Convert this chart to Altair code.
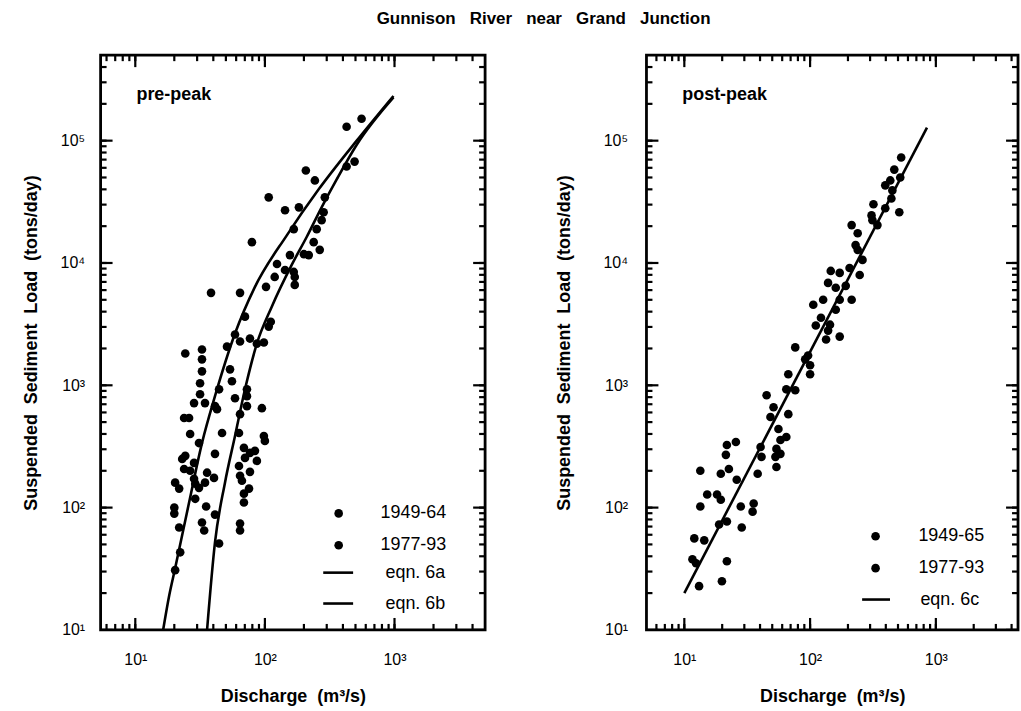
import altair as alt
import pandas as pd

# ---------------- data ----------------
# pre-peak panel, period 1949-64
pre1_q = [557, 427, 427, 492, 207, 243, 290, 107, 143, 183, 284, 274, 251, 167, 79.4, 238,
          265, 156, 200, 218, 124, 143, 167, 119, 170, 170, 102, 38.4, 64.3, 70.2, 111, 107,
          58.8, 76.7, 64.3, 51.0, 86.7, 98.2, 24.3, 32.7, 32.7, 32.7, 31.6]
pre1_l = [151000, 130000, 61500, 67400, 57000, 47300, 34400, 34400, 27000, 28500, 26000,
          22400, 18900, 18900, 14800, 14800, 12800, 11600, 11800, 11600, 9820, 8770, 8450,
          7690, 7690, 6620, 6380, 5700, 5700, 3640, 3310, 3020, 2600, 2410, 2280, 2070, 2190,
          2240, 1820, 1960, 1630, 1300, 1040]
# pre-peak panel, period 1977-93
pre2_q = [53.8, 55.7, 44.3, 31.6, 72.7, 72.7, 58.8, 34.5, 41.2, 28.4, 72.7, 94.8, 42.7, 26.0,
          23.8, 64.3, 26.5, 46.7, 63.1, 98.2, 100, 31.0, 41.2, 68.9, 76.7, 83.8, 70.2, 86.7,
          24.3, 23.0, 28.4, 63.1, 23.8, 26.5, 35.8, 76.7, 28.4, 40.5, 64.3, 20.3, 29.0, 31.0,
          34.5, 21.8, 66.5, 75.4, 29.0, 68.9, 68.9, 20.0, 20.0, 35.2, 41.2, 32.7, 34.0, 64.3,
          64.3, 21.8, 44.3, 22.2, 20.3]
pre2_l = [1350, 1080, 927, 845, 927, 815, 784, 715, 675, 715, 675, 650, 638, 540, 540, 581,
          400, 407, 407, 385, 351, 337, 275, 308, 280, 291, 255, 241, 265, 250, 232, 219, 207,
          200, 193, 196, 172, 175, 182, 160, 157, 145, 160, 143, 166, 143, 118, 130, 110, 100,
          89.3, 102, 87.7, 75.5, 65.0, 74.1, 65.0, 68.7, 50.9, 43.1, 30.8]
# fitted curves, pre-peak
eq6a_q = [16.4, 18.3, 20.3, 26.0, 32.7, 41.2, 58.8, 83.8, 148, 260, 511, 982]
eq6a_l = [10, 19.3, 31.9, 110, 337, 815, 2650, 6380, 16900, 40000, 100000, 232000]
eq6b_q = [35.8, 41.2, 49.2, 58.8, 70.2, 86.7, 113, 161, 210, 274, 358, 511, 982]
eq6b_l = [10, 51.9, 160, 385, 927, 2190, 4390, 9640, 16300, 28500, 48200, 92700, 226000]

# post-peak panel, period 1949-65
post1_q = [530, 467, 521, 434, 396, 451, 443, 512, 319, 396, 308, 313, 343, 214, 239, 230,
           239, 261, 206, 248, 146, 172, 139, 160, 192, 172, 214, 127, 106, 160, 122, 111,
           144, 139, 134, 172, 96.4, 76.2, 91.4, 100]
post1_l = [72800, 58000, 50000, 47300, 43100, 39200, 33700, 26000, 30200, 28000, 24500,
           22400, 20400, 20400, 17500, 14000, 12800, 10600, 9100, 7980, 8610, 8300, 6870,
           6270, 6500, 5000, 5000, 5000, 4560, 4150, 3570, 3080, 3130, 2800, 2370, 2500, 1750,
           2040, 1630, 1460]
# post-peak panel, period 1977-93
post2_q = [67.1, 100, 64.7, 76.2, 45.1, 51.2, 48.4, 67.1, 56.0, 64.7, 58.1, 40.4, 54.0, 58.1,
           41.1, 53.0, 54.0, 21.8, 25.7, 21.4, 13.4, 19.5, 22.6, 38.3, 26.1, 15.2, 18.2, 19.5,
           13.4, 28.1, 35.6, 34.9, 21.8, 18.9, 28.6, 12.0, 14.4, 11.6, 12.4, 21.8, 13.1, 19.9]
post2_l = [1230, 1230, 927, 910, 830, 662, 550, 581, 439, 378, 357, 313, 302, 275, 260, 260,
           215, 325, 344, 270, 200, 189, 207, 189, 169, 128, 128, 116, 102, 102, 108, 92.7,
           76.9, 72.8, 68.7, 56.0, 54.0, 37.8, 35.1, 36.4, 22.8, 25.0]
# fitted line, post-peak
eq6c_q = [10, 850]
eq6c_l = [20, 128000]

x_major = [10, 100, 1000]
x_major_labels = ["10¹", "10²", "10³"]
y_major = [10, 100, 1000, 10000, 100000]
y_major_labels = ["10¹", "10²", "10³", "10⁴", "10⁵"]

FONT = "Liberation Sans"
NB = "\u00a0"


def gap(n):
    return NB * n


def label_expr(values, labels):
    expr = "''"
    for v, s in reversed(list(zip(values, labels))):
        expr = f"datum.value == {v} ? '{s}' : ({expr})"
    return expr


def minor_ticks(lo, hi):
    out = []
    for e in range(0, 7):
        for m in range(1, 10):
            v = m * 10 ** e
            if lo < v < hi:
                out.append(v)
    return out


def panel(p1q, p1l, p2q, p2l, per_names, curves, tag, xdom, w, h,
          title_pad, label_pad, leg_pts, leg_lines):
    xs = alt.Scale(type="log", domain=xdom, nice=False)
    ys = alt.Scale(type="log", domain=[10, 500000], nice=False)
    xaxis = alt.Axis(values=x_major, labelExpr=label_expr(x_major, x_major_labels),
                     ticks=False, domain=False, grid=False, labelPadding=22,
                     labelFontSize=16, labelFont=FONT, labelColor="black",
                     titleFont=FONT, titleFontSize=18, titleColor="black",
                     titleFontWeight="bold", titlePadding=20,
                     title=f"Discharge{gap(2)}(m³/s)")
    yaxis = alt.Axis(values=y_major, labelExpr=label_expr(y_major, y_major_labels),
                     ticks=False, domain=False, grid=False, labelPadding=label_pad,
                     labelFontSize=16, labelFont=FONT, labelColor="black",
                     titleFont=FONT, titleFontSize=18, titleColor="black",
                     titleFontWeight="bold", titlePadding=title_pad,
                     title=f"Suspended{gap(2)}Sediment{gap(2)}Load{gap(2)}(tons/day)")

    pts = pd.DataFrame({
        "Q": p1q + p2q,
        "L": p1l + p2l,
        "period": [per_names[0]] * len(p1q) + [per_names[1]] * len(p2q),
    })
    points = alt.Chart(pts).mark_point(filled=True, color="black", opacity=1, size=75).encode(
        x=alt.X("Q:Q", scale=xs, axis=xaxis),
        y=alt.Y("L:Q", scale=ys, axis=yaxis),
        shape=alt.Shape("period:N",
                        scale=alt.Scale(domain=per_names, range=["circle", "circle"]),
                        legend=alt.Legend(title=None, orient="none", legendX=leg_pts[0],
                                          legendY=leg_pts[1], padding=0, symbolSize=75,
                                          symbolFillColor="black", symbolStrokeColor="black",
                                          symbolStrokeWidth=0, labelFontSize=18,
                                          labelColor="black",
                                          labelFont=FONT, labelOffset=leg_pts[2],
                                          rowPadding=leg_pts[3])),
    )

    rows = []
    names = []
    for name, cq, cl in curves:
        names.append(name)
        for q, l in zip(cq, cl):
            rows.append({"Q": q, "L": l, "eq": name})
    cdf = pd.DataFrame(rows)
    lines = alt.Chart(cdf).mark_line(strokeWidth=2.6, interpolate="monotone").encode(
        x=alt.X("Q:Q", scale=xs, axis=xaxis),
        y=alt.Y("L:Q", scale=ys, axis=yaxis),
        color=alt.Color("eq:N", scale=alt.Scale(domain=names, range=["black"] * len(names)),
                        legend=alt.Legend(title=None, orient="none", legendX=leg_lines[0],
                                          legendY=leg_lines[1], padding=0,
                                          symbolType="stroke", symbolSize=leg_lines[4],
                                          symbolStrokeWidth=2.6, labelFontSize=18,
                                          labelColor="black",
                                          labelFont=FONT, labelOffset=leg_lines[2],
                                          rowPadding=leg_lines[3])),
        detail="eq:N",
    )

    # inward ticks on all four sides
    xmin = pd.DataFrame({"v": minor_ticks(xdom[0], xdom[1])})
    xmaj = pd.DataFrame({"v": x_major})
    ymin = pd.DataFrame({"v": minor_ticks(10, 500000)})
    ymaj = pd.DataFrame({"v": y_major})
    tick_layers = []
    for df, ln in ((xmin, 6), (xmaj, 12)):
        base = alt.Chart(df).mark_rule(color="black", strokeWidth=2.2)
        tick_layers.append(base.encode(x=alt.X("v:Q", scale=xs, axis=xaxis),
                                       y=alt.value(h), y2=alt.value(h - ln)))
        tick_layers.append(base.encode(x=alt.X("v:Q", scale=xs, axis=xaxis),
                                       y=alt.value(0), y2=alt.value(ln)))
    for df, ln in ((ymin, 6), (ymaj, 12)):
        base = alt.Chart(df).mark_rule(color="black", strokeWidth=2.2)
        tick_layers.append(base.encode(y=alt.Y("v:Q", scale=ys, axis=yaxis),
                                       x=alt.value(0), x2=alt.value(ln)))
        tick_layers.append(base.encode(y=alt.Y("v:Q", scale=ys, axis=yaxis),
                                       x=alt.value(w), x2=alt.value(w - ln)))

    label = alt.Chart(pd.DataFrame({"t": [tag]})).mark_text(
        align="left", baseline="middle", fontSize=18, fontWeight="bold", font=FONT,
        color="black").encode(text="t:N", x=alt.value(36), y=alt.value(40))

    return alt.layer(*tick_layers, lines, points, label).properties(width=w, height=h)


left = panel(pre1_q, pre1_l, pre2_q, pre2_l, ["1949-64", "1977-93"],
             [("eqn. 6a", eq6a_q, eq6a_l), ("eqn. 6b", eq6b_q, eq6b_l)],
             "pre-peak", [5.4, 5000], 386, 577,
             title_pad=20, label_pad=16,
             leg_pts=(230, 451, 33, 14), leg_lines=(222, 503, 31, 5, 900))
right = panel(post1_q, post1_l, post2_q, post2_l, ["1949-65", "1977-93"],
              [("eqn. 6c", eq6c_q, eq6c_l)],
              "post-peak", [5.0, 4500], 373, 577,
              title_pad=30, label_pad=19,
              leg_pts=(221, 474, 34, 14), leg_lines=(215, 531, 29, 5, 784))

chart = alt.hconcat(left, right, spacing=65).resolve_scale(
    shape="independent", color="independent"
).properties(
    title=alt.TitleParams(f"Gunnison{gap(3)}River{gap(3)}near{gap(3)}Grand{gap(3)}Junction",
                          anchor="middle", fontSize=17, fontWeight="bold", font=FONT,
                          offset=25, color="black", dx=23),
    padding={"left": 20, "top": 8, "right": 0, "bottom": 0},
    background="white",
).configure_view(
    stroke="black", strokeWidth=2.8
)

chart.save("out.html", embed_options={"renderer": "svg", "actions": False})
